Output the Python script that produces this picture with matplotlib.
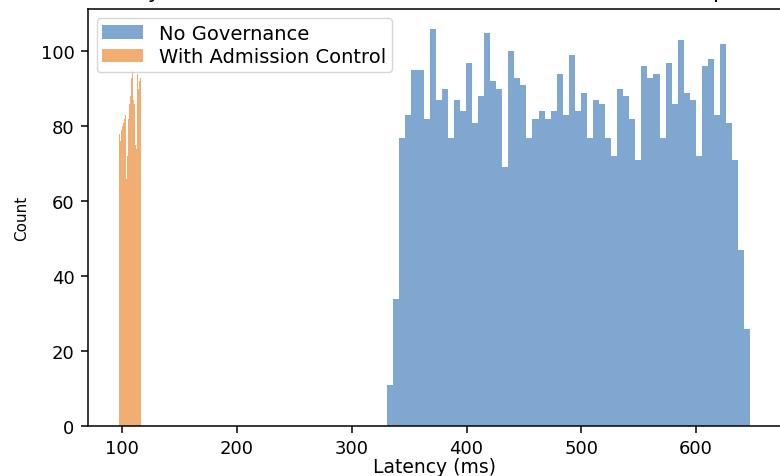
import numpy as np
import matplotlib
matplotlib.use("Agg")
import matplotlib.pyplot as plt

# bin counts (60 bins each)
no_gov_range = (330.9, 647.3)
no_gov_counts = [11, 34, 77, 83, 95, 95, 82, 106, 87, 90,
                 77, 87, 84, 97, 81, 88, 105, 92, 90, 69,
                 100, 93, 91, 77, 82, 84, 82, 84, 94, 83,
                 99, 84, 89, 77, 87, 86, 77, 72, 90, 88,
                 82, 71, 96, 93, 94, 77, 97, 86, 103, 89,
                 87, 72, 96, 98, 83, 102, 81, 71, 47, 26]

adm_range = (97.4, 116.3)
adm_counts = [78, 77, 80, 76, 96, 79, 100, 82, 80, 83,
              79, 81, 84, 80, 82, 79, 83, 81, 70, 66,
              64, 68, 72, 83, 85, 82, 84, 81, 86, 83,
              88, 92, 90, 93, 91, 88, 95, 104, 90, 87,
              89, 86, 88, 77, 75, 76, 78, 74, 93, 91,
              94, 92, 90, 93, 95, 92, 94, 91, 93, 90]

title = "Latency Distribution: Baseline vs. Admission Control Comparison"
labels = ["No Governance", "With Admission Control"]

plt.rcParams.update({
    "font.size": 13,
    "axes.linewidth": 1.1,
    "xtick.major.size": 4.8,
    "ytick.major.size": 4.8,
    "xtick.major.width": 1.1,
    "ytick.major.width": 1.1,
    "xtick.major.pad": 4.5,
    "ytick.major.pad": 4.8,
})

fig = plt.figure(figsize=(7.8, 4.77), dpi=100)
ax = fig.add_axes([0.1126, 0.1048, 0.8897, 0.8742])

edges_ng = np.linspace(no_gov_range[0], no_gov_range[1], len(no_gov_counts) + 1)
edges_ad = np.linspace(adm_range[0], adm_range[1], len(adm_counts) + 1)

ax.hist(edges_ng[:-1], bins=edges_ng, weights=no_gov_counts,
        color="#80a7cf", label=labels[0])
ax.hist(edges_ad[:-1], bins=edges_ad, weights=adm_counts,
        color="#f2ad73", label=labels[1])

# title sits mostly above the picture, only its lower edge shows
ax.set_title(title, fontsize=16, pad=8.5)
ax.set_xlabel("Latency (ms)", fontsize=13.5, labelpad=0)
ax.set_ylabel("Count", fontsize=11, labelpad=8)
ax.legend(loc="upper left", fontsize=14, labelspacing=0.25,
          borderpad=0.3, handlelength=2.1, borderaxespad=0.45)

fig.savefig("out.png", dpi=100)
